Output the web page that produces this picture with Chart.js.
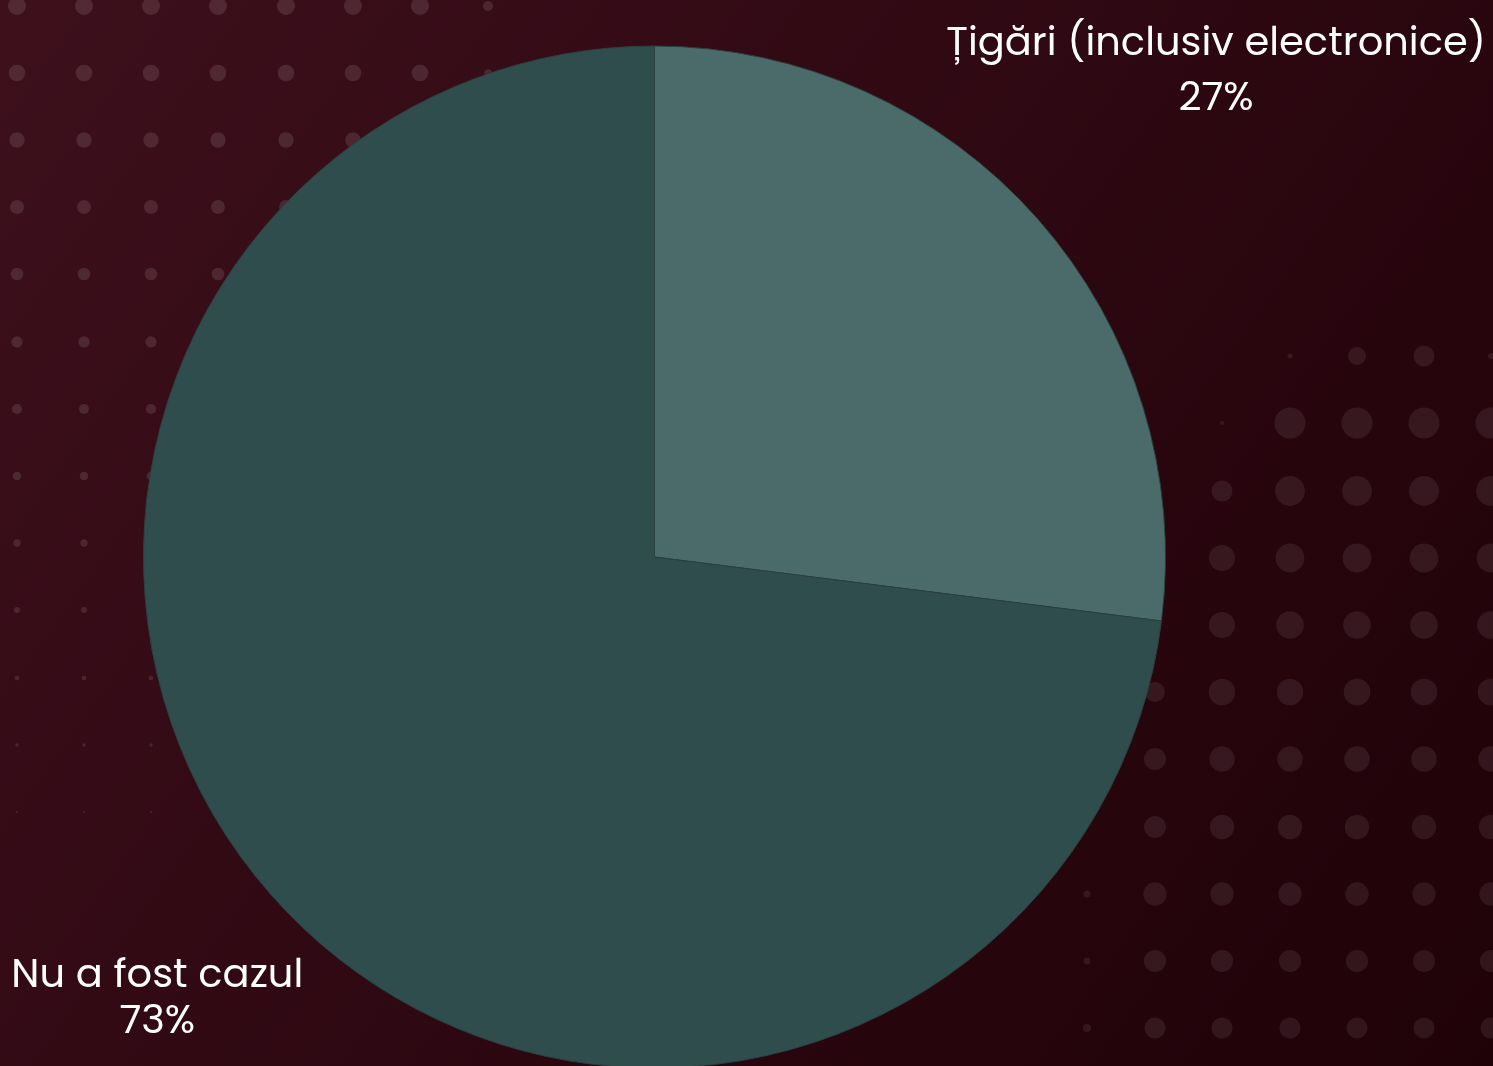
<!DOCTYPE html>
<html>
<head>
<meta charset="utf-8">
<script src="https://cdn.jsdelivr.net/npm/chart.js@4.4.1/dist/chart.umd.min.js"></script>
<style>
  html, body { margin: 0; padding: 0; overflow: hidden; background: #2c0710; }
  #wrap { position: relative; width: 1493px; height: 1080px; }
  canvas { display: block; }
</style>
</head>
<body>
<div id="wrap"><canvas id="pieChart" width="1493" height="1080"></canvas></div>
<script>
const labels = ['Țigări (inclusiv electronice)', 'Nu a fost cazul'];
const values = [27, 73];
const colors = ['#4a6b69', '#2f4d4c'];

// decorative dot grids
const leftCols = [17, 84, 151, 218, 286, 353, 420, 488];
const leftRows = [6, 73, 140, 207, 274, 342, 409, 476, 543, 610, 678, 745, 812];
const rightCols = [1087, 1155, 1222, 1290, 1357, 1424, 1491];
const rightRows = [356, 423, 491, 558, 625, 692, 759, 827, 894, 961, 1028];
// first visible column and its radius for each right-hand row
const rightStart = [[3, 2.5], [2, 2], [2, 10.5], [2, 13], [2, 13], [1, 10], [1, 11], [1, 11], [0, 3.5], [0, 3.5], [0, 4]];

const backgroundPlugin = {
  id: 'backdrop',
  beforeDraw(chart) {
    const ctx = chart.ctx;
    const w = chart.width, h = chart.height;
    ctx.save();
    const g = ctx.createLinearGradient(0, 0, w, h);
    g.addColorStop(0, '#3d101c');
    g.addColorStop(0.5, '#2e0812');
    g.addColorStop(1, '#1f0208');
    ctx.fillStyle = g;
    ctx.fillRect(0, 0, w, h);

    ctx.fillStyle = 'rgba(255,255,255,0.11)';
    leftRows.forEach((y, j) => {
      leftCols.forEach((x, i) => {
        let r = i < 7 ? 9 - 0.67 * j : 5 - 1.2 * j;
        if (r <= 0.5) return;
        ctx.beginPath();
        ctx.arc(x, y, r, 0, Math.PI * 2);
        ctx.fill();
      });
    });

    ctx.fillStyle = 'rgba(255,255,255,0.08)';
    rightRows.forEach((y, j) => {
      const [first, firstR] = rightStart[j];
      rightCols.forEach((x, i) => {
        if (i < first) return;
        let r = 15.5 - 0.55 * Math.max(0, j - 1);
        if (j === 0) r = i === 6 ? 3 : (i === 5 ? 10.5 : 9);
        if (i === first) r = firstR;
        ctx.beginPath();
        ctx.arc(x, y, r, 0, Math.PI * 2);
        ctx.fill();
      });
    });
    ctx.restore();
  }
};

const labelPlugin = {
  id: 'sliceLabels',
  afterDraw(chart) {
    const ctx = chart.ctx;
    const arcs = chart.getDatasetMeta(0).data;
    const a = arcs[0];
    const cx = a.x, cy = a.y, R = a.outerRadius;
    // anchor points relative to pie centre, in radius units
    const anchors = [
      { x: cx + 1.099 * R, y: cy - 0.983 * R },
      { x: cx - 0.973 * R, y: cy + 0.841 * R }
    ];
    ctx.save();
    ctx.fillStyle = '#ffffff';
    ctx.font = '400 40px Poppins, "Open Sans", sans-serif';
    ctx.textAlign = 'center';
    ctx.textBaseline = 'alphabetic';
    const total = values.reduce((s, v) => s + v, 0);
    labels.forEach((lab, i) => {
      const pct = Math.round(values[i] / total * 100) + '%';
      ctx.fillText(lab, anchors[i].x, anchors[i].y);
      ctx.fillText(pct, anchors[i].x, anchors[i].y + (i === 0 ? 55 : 46));
    });
    ctx.restore();
  }
};

const canvas = document.getElementById('pieChart');
new Chart(canvas, {
  type: 'pie',
  data: {
    labels: labels,
    datasets: [{
      data: values,
      backgroundColor: colors,
      borderColor: '#2a403f',
      borderWidth: 1
    }]
  },
  options: {
    responsive: false,
    maintainAspectRatio: false,
    animation: false,
    layout: {
      padding: { top: 45, bottom: 11, left: 143, right: 327 }
    },
    plugins: {
      legend: { display: false },
      title: { display: false },
      tooltip: { enabled: false }
    }
  },
  plugins: [backgroundPlugin, labelPlugin]
});
</script>
</body>
</html>
